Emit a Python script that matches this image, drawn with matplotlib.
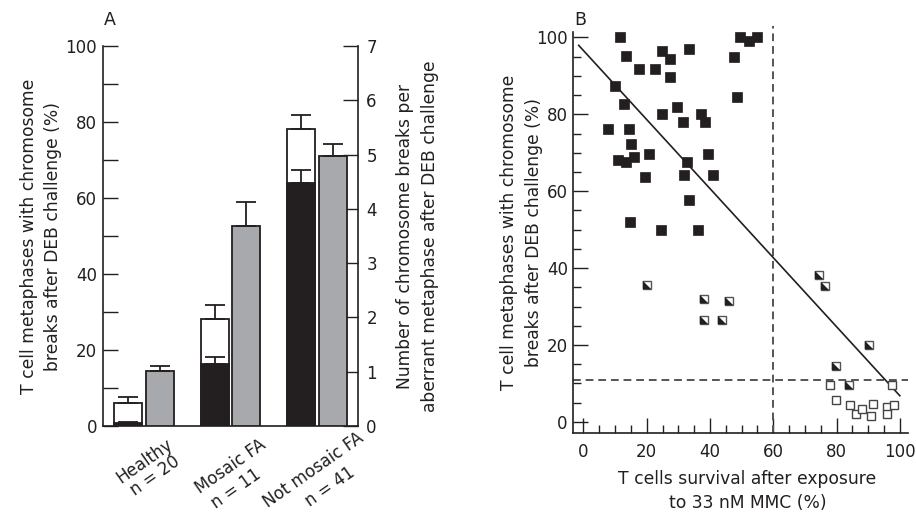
import numpy as np
import matplotlib
matplotlib.use("Agg")
import matplotlib.pyplot as plt
from matplotlib.ticker import MultipleLocator

plt.rcParams['font.family'] = ['DejaVu Sans']

# ---------------- Data: panel A ----------------
group_names = ["Healthy", "Mosaic FA", "Not mosaic FA"]
group_n = ["n = 20", "n = 11", "n = 41"]
pct_aberrant = [6.0, 28.2, 78.1]          # white bars (%)
pct_aberrant_err = [1.5, 3.6, 3.8]
pct_black = [0.7, 16.2, 64.0]             # black bars (%)
pct_black_err = [0.3, 1.9, 3.5]
breaks_per_meta = [1.02, 3.68, 4.97]      # grey bars (right axis)
breaks_per_meta_err = [0.09, 0.45, 0.22]

# ---------------- Data: panel B ----------------
filled_x = [11.7, 13.6, 24.9, 27.5, 33.5, 17.7, 22.7, 27.5, 10.1, 12.9, 29.6, 24.9,
            37.0, 31.6, 38.5, 7.9, 14.5, 15.1, 20.8, 39.5, 16.1, 11.0, 13.6, 32.8,
            19.3, 31.9, 41.1, 33.5, 14.8, 24.6, 36.3, 47.7, 48.6, 49.6, 52.4, 55.0]
filled_y = [100.0, 95.3, 96.6, 94.3, 96.9, 91.9, 91.7, 89.8, 87.5, 82.6, 82.0, 80.0,
            80.0, 77.9, 77.9, 76.3, 76.3, 72.2, 69.8, 69.8, 68.8, 68.0, 67.5, 67.7,
            63.6, 64.1, 64.1, 57.6, 52.1, 49.8, 49.8, 94.8, 84.4, 100.0, 99.2, 100.0]
half_x = [20.0, 38.0, 46.0, 38.0, 43.8, 74.3, 76.5, 90.4, 79.7, 84.0]
half_y = [35.7, 32.0, 31.5, 26.4, 26.4, 38.3, 35.4, 19.9, 14.6, 9.5]
open_x = [77.8, 97.6, 79.8, 84.3, 86.0, 88.0, 91.6, 90.9, 96.0, 96.0, 98.1]
open_y = [9.7, 9.7, 5.7, 4.5, 2.0, 3.3, 4.6, 1.5, 3.9, 2.0, 4.4]
fit_intercept = 96.6
fit_slope = -0.898
fit_range = [-1.5, 100.0]
cutoff_survival = 60
cutoff_breaks = 11

INK = "#231f20"
GREY = "#a7a9ac"
DASH = "#555555"
W, H = 916, 513

fig = plt.figure(figsize=(9.16, 5.13), dpi=100)

# ================= Panel A =================
axA = fig.add_axes([0.1119, 0.1696, 0.2789, 0.7407])
axR = axA.twinx()
pos = np.arange(len(group_names))
off = 0.181
w = 0.324

axA.bar(pos - off, pct_aberrant, width=w, color="white", edgecolor=INK, linewidth=1.3, zorder=2)
axA.bar(pos - off, pct_black, width=w, color=INK, edgecolor=INK, linewidth=1.3, zorder=3)
axA.errorbar(pos - off, pct_aberrant, yerr=[np.zeros(3), pct_aberrant_err], fmt='none',
             ecolor=INK, elinewidth=1.3, capsize=7.2, capthick=1.3, zorder=4)
axA.errorbar(pos - off, pct_black, yerr=[np.zeros(3), pct_black_err], fmt='none',
             ecolor=INK, elinewidth=1.3, capsize=7.2, capthick=1.3, zorder=4)

axR.bar(pos + off, breaks_per_meta, width=w, color=GREY, edgecolor=INK, linewidth=1.3, zorder=2)
axR.errorbar(pos + off, breaks_per_meta, yerr=[np.zeros(3), breaks_per_meta_err], fmt='none',
             ecolor=INK, elinewidth=1.3, capsize=7.2, capthick=1.3, zorder=4)

axA.set_xlim(-0.48, 2.474)
axA.set_ylim(0, 100)
axR.set_ylim(0, 7)
axA.yaxis.set_major_locator(MultipleLocator(20))
axA.yaxis.set_minor_locator(MultipleLocator(10))
axA.tick_params(axis='y', which='both', direction='in', length=11, width=1.0, color=INK,
                labelsize=12, pad=4, labelcolor=INK)
axR.yaxis.set_major_locator(MultipleLocator(1))
axR.tick_params(axis='y', which='both', direction='in', length=11, width=1.0, color=INK,
                labelsize=12, pad=6, labelcolor=INK)
axA.set_xticks([])
axR.set_xticks([])
for ax in (axA, axR):
    ax.spines['top'].set_visible(False)
    for s in ('left', 'right', 'bottom'):
        ax.spines[s].set_color(INK)
        ax.spines[s].set_linewidth(1.2)
axA.spines['right'].set_visible(False)
axR.spines['left'].set_visible(False)
axR.spines['bottom'].set_visible(False)

axA.set_ylabel("T cell metaphases with chromosome\nbreaks after DEB challenge (%)",
               fontsize=12.3, color=INK, linespacing=1.45)
axA.yaxis.set_label_coords(-0.158, 0.5)
axR.set_ylabel("Number of chromosome breaks per\naberrant metaphase after DEB challenge",
               fontsize=12.3, color=INK, linespacing=1.45)
axR.yaxis.set_label_coords(1.150, 0.5)

# rotated category labels (pixel centres of each line)
name_xy = [(145, 461), (231, 466), (313, 470)]
n_xy = [(155, 476), (236, 489), (330, 487)]
for txt, (px, py) in list(zip(group_names, name_xy)) + list(zip(group_n, n_xy)):
    fig.text(px / W, 1 - py / H, txt, rotation=35, rotation_mode='anchor',
             ha='center', va='center', fontsize=12, color=INK)

fig.text(110 / W, 1 - 20 / H, "A", fontsize=12.5, color=INK, ha='center', va='center')

# ================= Panel B =================
axB = fig.add_axes([0.6259, 0.1559, 0.3654, 0.7823])
axB.set_xlim(-3.2, 102.6)
axB.set_ylim(-2.9, 101.5)

fx = np.array(fit_range)
axB.plot(fx, fit_intercept + fit_slope * fx, color=INK, lw=1.2, zorder=3)
axB.axvline(cutoff_survival, ymin=0, ymax=(103 + 2.9) / (101.5 + 2.9), color=DASH, lw=1.4,
            ls=(0, (4, 2.5)), clip_on=False, zorder=2)
axB.axhline(cutoff_breaks, color=DASH, lw=1.4, ls=(0, (4, 2.5)), zorder=2)

axB.plot(filled_x, filled_y, ls='none', marker='s', ms=6.8, mfc=INK, mec=INK, mew=0.5, zorder=4)
tri = [(-1, 1), (-1, -1), (1, -1)]
axB.plot(half_x, half_y, ls='none', marker='s', ms=6.4, mfc='white', mec='#555555', mew=1.0, zorder=4)
axB.plot(half_x, half_y, ls='none', marker=tri, ms=6.4, mfc=INK, mec=INK, mew=0.3, zorder=5)
axB.plot(open_x, open_y, ls='none', marker='s', ms=6.4, mfc='white', mec='#444444', mew=1.0, zorder=4)

axB.xaxis.set_major_locator(MultipleLocator(20))
axB.xaxis.set_minor_locator(MultipleLocator(5))
axB.yaxis.set_major_locator(MultipleLocator(20))
axB.yaxis.set_minor_locator(MultipleLocator(5))
axB.tick_params(which='major', direction='in', length=11, width=1.0, color=INK,
                labelsize=12, labelcolor=INK)
axB.tick_params(which='minor', direction='in', length=5.5, width=1.0, color=INK)
axB.tick_params(axis='x', which='major', pad=7)
axB.tick_params(axis='y', which='major', pad=4)
for s in ('top', 'right'):
    axB.spines[s].set_visible(False)
for s in ('left', 'bottom'):
    axB.spines[s].set_color(INK)
    axB.spines[s].set_linewidth(1.2)

axB.set_ylabel("T cell metaphases with chromosome\nbreaks after DEB challenge (%)",
               fontsize=12.3, color=INK, linespacing=1.45)
axB.yaxis.set_label_coords(-0.092, 0.5)
axB.set_xlabel("T cells survival after exposure\nto 33 nM MMC (%)",
               fontsize=12.3, color=INK, linespacing=1.4)
axB.xaxis.set_label_coords(0.52, -0.092)
fig.text(580 / W, 1 - 20 / H, "B", fontsize=12.5, color=INK, ha='center', va='center')

fig.savefig("out.png", dpi=100)
